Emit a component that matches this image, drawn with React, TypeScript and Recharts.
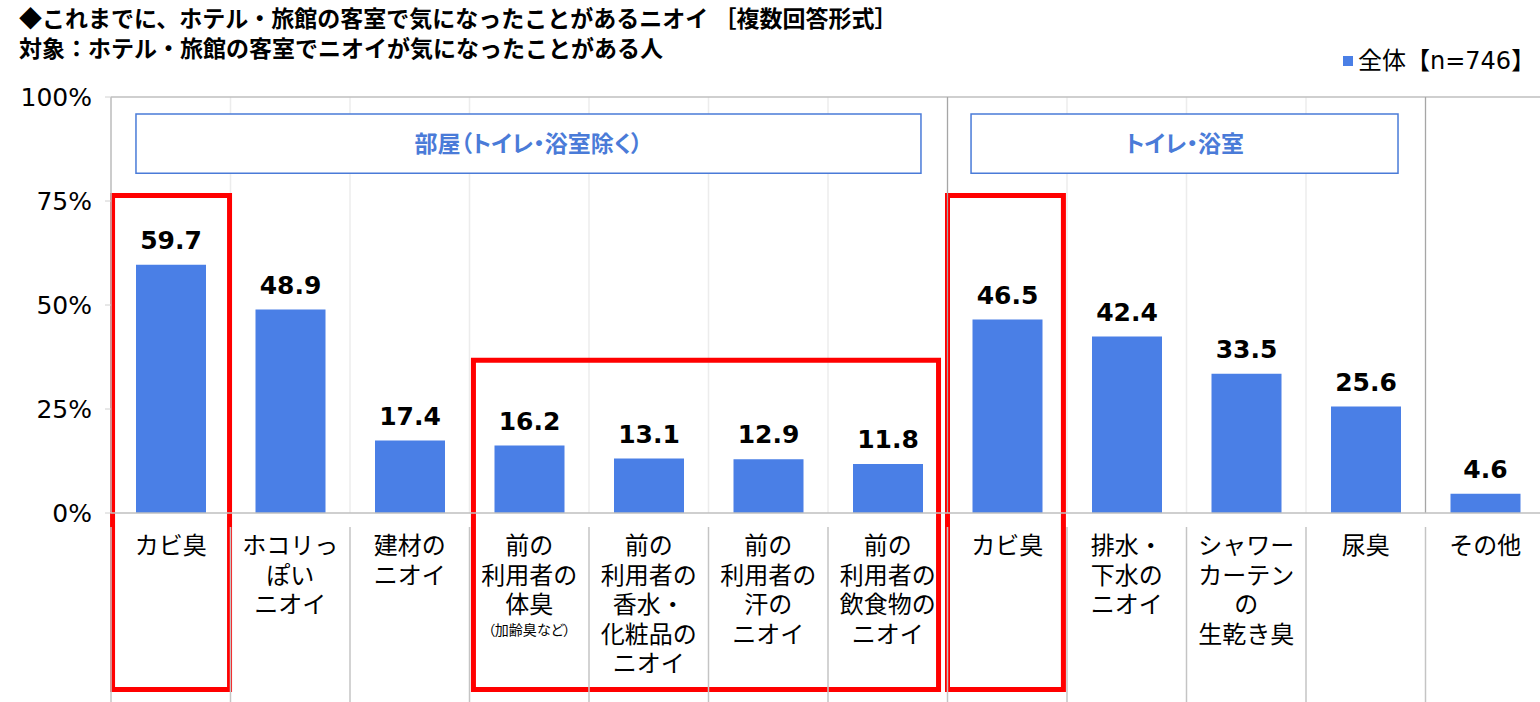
import React from 'react';
import {
  ComposedChart,
  Bar,
  XAxis,
  YAxis,
  CartesianGrid,
  ReferenceLine,
  ReferenceArea,
  LabelList,
  Legend,
} from 'recharts';

// ---------- data ----------
const categoryLabels: string[][] = [
  ['カビ臭'],
  ['ホコリっ', 'ぽい', 'ニオイ'],
  ['建材の', 'ニオイ'],
  ['前の', '利用者の', '体臭'],
  ['前の', '利用者の', '香水・', '化粧品の', 'ニオイ'],
  ['前の', '利用者の', '汗の', 'ニオイ'],
  ['前の', '利用者の', '飲食物の', 'ニオイ'],
  ['カビ臭'],
  ['排水・', '下水の', 'ニオイ'],
  ['シャワー', 'カーテン', 'の', '生乾き臭'],
  ['尿臭'],
  ['その他'],
];
const categoryNotes: string[] = ['', '', '', '（加齢臭など）', '', '', '', '', '', '', '', ''];
const values: number[] = [59.7, 48.9, 17.4, 16.2, 13.1, 12.9, 11.8, 46.5, 42.4, 33.5, 25.6, 4.6];
const seriesName = '全体【n=746】';
const yTicks: number[] = [0, 25, 50, 75, 100];
const groupBoundaries: number[] = [7, 11];
const groupBoxes = [
  { x1: 0.209, x2: 6.778, y1: 95.9, y2: 81.7, label: '部屋（トイレ・浴室除く）' },
  { x1: 7.197, x2: 10.77, y1: 95.9, y2: 81.7, label: 'トイレ・浴室' },
];
const highlightBoxes = [
  { x1: 0.013, x2: 0.992, y1: 76.3, y2: -42.4 },
  { x1: 3.033, x2: 6.925, y1: 36.7, y2: -42.4 },
  { x1: 7.0, x2: 7.97, y1: 76.3, y2: -42.4 },
];

const data = values.map((v, i) => ({ id: `c${i}`, value: v }));

// ---------- layout / style ----------
const CHART_W = 1550;
const CHART_H = 702;
const MARGIN = { top: 97, right: 5, bottom: 0, left: 0 };
const Y_AXIS_W = 111;
const X_AXIS_H = 189;
const PLOT_W = CHART_W - MARGIN.right - MARGIN.left - Y_AXIS_W;
const N = categoryLabels.length;
const BAND = PLOT_W / N;

const BLUE = '#4A7FE6';
const BOX_BLUE = '#4A7BD8';
const RED = '#FF0000';
const JP = "'Noto Sans CJK JP', 'Noto Sans', sans-serif";
const NUM = "'DejaVu Sans', 'Noto Sans CJK JP', sans-serif";

function CategoryTick(props: any) {
  const { x, y, payload, index } = props;
  const i = typeof index === 'number' ? index : data.findIndex((d) => d.id === payload?.value);
  const lines = categoryLabels[i] || [];
  const note = categoryNotes[i];
  const half = BAND / 2;
  return (
    <g>
      <line x1={x - half} x2={x - half} y1={y + 14} y2={y + 192} stroke="#c4c4c4" strokeWidth={1.5} />
      {i === N - 1 && (
        <line x1={x + half} x2={x + half} y1={y + 14} y2={y + 192} stroke="#c4c4c4" strokeWidth={1.5} />
      )}
      <text textAnchor="middle" fontFamily={JP} fontSize={24} fill="#000">
        {lines.map((l, k) => (
          <tspan key={k} x={x} y={y + 41 + k * 29.5}>
            {l}
          </tspan>
        ))}
      </text>
      {note ? (
        <text
          x={x}
          y={y + 41 + (lines.length - 1) * 29.5 + 22}
          textAnchor="middle"
          fontFamily={JP}
          fontSize={14}
          fill="#000"
          style={{ fontFeatureSettings: '"palt"' }}
        >
          {note}
        </text>
      ) : null}
    </g>
  );
}

function LegendContent(props: any) {
  const item = props?.payload?.[0];
  return (
    <div
      style={{
        display: 'flex',
        alignItems: 'center',
        whiteSpace: 'nowrap',
        fontFamily: NUM,
        fontSize: 24,
        lineHeight: '30px',
        color: '#000',
      }}
    >
      <span style={{ display: 'inline-block', width: 10, height: 10, background: BLUE, marginRight: 5 }} />
      <span>{item?.value ?? seriesName}</span>
    </div>
  );
}

function makeBoxLabel(text: string) {
  return (p: any) => {
    const vb = p?.viewBox || {};
    const cx = (vb.x ?? 0) + (vb.width ?? 0) / 2;
    const cy = (vb.y ?? 0) + (vb.height ?? 0) / 2;
    return (
      <text
        x={cx}
        y={cy + 8}
        textAnchor="middle"
        fontFamily={JP}
        fontSize={23}
        fontWeight={700}
        fill={BOX_BLUE}
        style={{ fontFeatureSettings: '"palt"' }}
      >
        {text}
      </text>
    );
  };
}

export default function App() {
  return (
    <div
      style={{
        position: 'absolute',
        left: 0,
        top: 0,
        width: 1540,
        height: 702,
        overflow: 'hidden',
        background: '#fff',
      }}
    >
      <div
        style={{
          position: 'absolute',
          left: 19,
          top: 2,
          fontFamily: JP,
          fontWeight: 700,
          fontSize: 23,
          lineHeight: '30px',
          color: '#000',
          whiteSpace: 'nowrap',
          zIndex: 2,
        }}
      >
        <div>◆これまでに、ホテル・旅館の客室で気になったことがあるニオイ ［複数回答形式］</div>
        <div>対象：ホテル・旅館の客室でニオイが気になったことがある人</div>
      </div>
      <ComposedChart width={CHART_W} height={CHART_H} data={data} margin={MARGIN}>
        <CartesianGrid
          horizontal={false}
          vertical
          stroke="#ececec"
          strokeWidth={1.5}
          verticalCoordinatesGenerator={(args: any) => {
            const o = args?.offset;
            const left = typeof o?.left === 'number' ? o.left : MARGIN.left + Y_AXIS_W;
            const w = typeof o?.width === 'number' ? o.width : PLOT_W;
            const pts: number[] = [];
            for (let i = 0; i <= N; i++) pts.push(left + (i * w) / N);
            return pts;
          }}
        />
        <XAxis
          dataKey="id"
          type="category"
          height={X_AXIS_H}
          interval={0}
          tickLine={false}
          tickSize={0}
          tickMargin={0}
          axisLine={{ stroke: '#bfbfbf', strokeWidth: 1.5 }}
          tick={<CategoryTick />}
        />
        <XAxis xAxisId="num" dataKey="value" type="number" domain={[0, N]} allowDataOverflow hide />
        <YAxis
          type="number"
          domain={[0, 100]}
          ticks={yTicks}
          width={Y_AXIS_W}
          tickFormatter={(v: number) => `${v}%`}
          tick={{ fill: '#000', fontSize: 25, fontFamily: NUM }}
          tickSize={6}
          tickMargin={13}
          axisLine={{ stroke: '#bfbfbf', strokeWidth: 1.5 }}
          tickLine={{ stroke: '#d0d0d0' }}
        />
        <ReferenceLine y={100} stroke="#bfbfbf" strokeWidth={1.5} ifOverflow="visible" />
        {groupBoundaries.map((b) => (
          <ReferenceLine key={b} xAxisId="num" x={b} stroke="#a6a6a6" strokeWidth={1.2} ifOverflow="visible" />
        ))}
        {groupBoxes.map((g) => (
          <ReferenceArea
            key={g.label}
            xAxisId="num"
            x1={g.x1}
            x2={g.x2}
            y1={g.y1}
            y2={g.y2}
            fill="#ffffff"
            fillOpacity={1}
            stroke={BOX_BLUE}
            strokeWidth={1.5}
            ifOverflow="visible"
            label={makeBoxLabel(g.label)}
          />
        ))}
        <Bar dataKey="value" name={seriesName} fill={BLUE} barSize={70} isAnimationActive={false}>
          <LabelList
            dataKey="value"
            position="top"
            offset={16}
            fill="#000"
            fontSize={25}
            fontWeight={700}
            fontFamily={NUM}
            formatter={(v: any) => Number(v).toFixed(1)}
          />
        </Bar>
        {highlightBoxes.map((h, i) => (
          <ReferenceArea
            key={`hl${i}`}
            xAxisId="num"
            x1={h.x1}
            x2={h.x2}
            y1={h.y1}
            y2={h.y2}
            fill="none"
            fillOpacity={0}
            stroke={RED}
            strokeWidth={5}
            ifOverflow="visible"
          />
        ))}
        <Legend
          layout="horizontal"
          verticalAlign="middle"
          align="center"
          content={<LegendContent />}
          wrapperStyle={{ left: 1343, top: 46, width: 'auto', height: 30 }}
        />
      </ComposedChart>
    </div>
  );
}
